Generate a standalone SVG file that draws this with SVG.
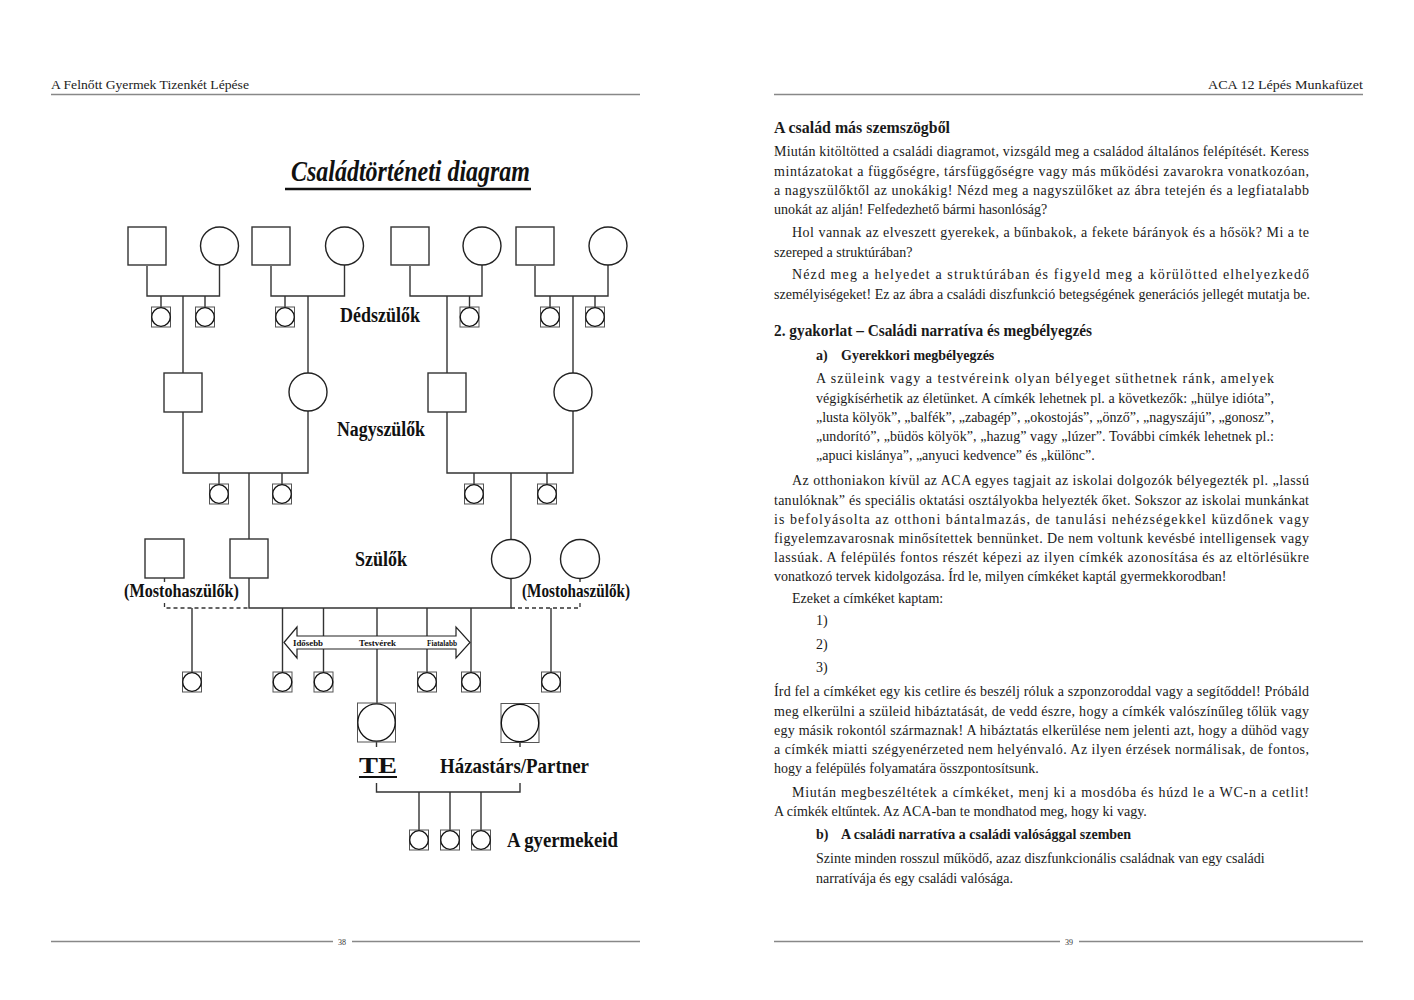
<svg xmlns="http://www.w3.org/2000/svg" xmlns:xlink="http://www.w3.org/1999/xlink" width="1414" height="1000" viewBox="0 0 1414 1000">
<style>
.ln{stroke:#333;stroke-width:1.4;fill:none}
.ds{stroke:#333;stroke-width:1.3;fill:none;stroke-dasharray:4 3}
.sq{fill:#fff;stroke:#333;stroke-width:1.4}
.ci{fill:#fff;stroke:#222;stroke-width:1.4}
.isq{fill:#fff;stroke:#555;stroke-width:1}
.ici{fill:#fff;stroke:#111;stroke-width:1.3}
.lab{font-family:"Liberation Serif",serif;font-weight:bold;fill:#111}
.b{font-family:"Liberation Serif",serif;font-size:14px;fill:#1a1a1a}
.bb{font-family:"Liberation Serif",serif;font-size:14px;font-weight:bold;fill:#1a1a1a}
.h{font-family:"Liberation Serif",serif;font-size:17px;font-weight:bold;fill:#1a1a1a}
.hd{font-family:"Liberation Serif",serif;font-size:12px;fill:#222}
.rule{stroke:#888;stroke-width:1.5}
.ar{font-family:"Liberation Serif",serif;font-size:9px;font-weight:bold;fill:#111}
.pg{font-family:"Liberation Serif",serif;font-size:8px;fill:#333}
</style>
<defs>
<g id="icon"><rect class="isq" x="-9.5" y="-10" width="19" height="20"/><circle class="ici" cx="0" cy="0" r="9.3"/></g>
<g id="bigicon"><rect class="isq" x="-19" y="-19.5" width="38" height="39"/><circle class="ici" cx="0" cy="0" r="18.7"/></g>
</defs>
<rect width="1414" height="1000" fill="#fff"/>

<!-- page furniture -->
<g id="page-left-header">
<text class="hd" x="51" y="89" textLength="198" lengthAdjust="spacingAndGlyphs">A Felnőtt Gyermek Tizenkét Lépése</text>
<line class="rule" x1="51" y1="94.5" x2="640" y2="94.5"/>
</g>
<g id="page-right-header">
<text class="hd" x="1363" y="89" text-anchor="end" textLength="155" lengthAdjust="spacingAndGlyphs">ACA 12 Lépés Munkafüzet</text>
<line class="rule" x1="774" y1="94.5" x2="1363" y2="94.5"/>
</g>
<g id="page-footers">
<line class="rule" x1="51" y1="941.5" x2="333" y2="941.5"/>
<text class="pg" x="342" y="944.5" text-anchor="middle">38</text>
<line class="rule" x1="352" y1="941.5" x2="640" y2="941.5"/>
<line class="rule" x1="774" y1="941.5" x2="1060" y2="941.5"/>
<text class="pg" x="1069" y="944.5" text-anchor="middle">39</text>
<line class="rule" x1="1079" y1="941.5" x2="1363" y2="941.5"/>
</g>

<!-- title -->
<g id="title">
<text x="291" y="181" style="font-family:'Liberation Serif',serif;font-size:29px;font-weight:bold;font-style:italic;fill:#111" textLength="239" lengthAdjust="spacingAndGlyphs">Családtörténeti diagram</text>
<line x1="285" y1="189" x2="531" y2="189" stroke="#111" stroke-width="2.5"/>
</g>

<!-- connectors -->
<g id="connectors">
<path class="ln" d="M147 266V296H219.5V265"/>
<path class="ln" d="M271 266V296H344.5V265"/>
<path class="ln" d="M410 266V296H482V265"/>
<path class="ln" d="M535 266V296H608V265"/>
<path class="ln" d="M161 296V307M205 296V307M285 296V307M469.5 296V307M550 296V307M595 296V307"/>
<path class="ln" d="M183 296V373M308 296V373M447 296V373M573 296V373"/>
<path class="ln" d="M183 412V473H308V411"/>
<path class="ln" d="M447 412V473H573V411"/>
<path class="ln" d="M219 473V484M282 473V484M474 473V484M547 473V484"/>
<path class="ln" d="M249 473V539M511 473V539.5"/>
<path class="ln" d="M249 578V608H511V578.5"/>
<path class="ln" d="M164.5 578V582M580 578.5V582"/>
<path class="ds" d="M164.5 603V608H249"/>
<path class="ds" d="M580 603V608H511"/>
<path class="ln" d="M192 608V672M282.5 608V672M471 608V672M551 608V672"/>
<path class="ln" d="M323.5 608V636M323.5 649V672M427 608V636M427 649V672"/>
<path class="ln" d="M377 608V636M377 649V703"/>
<path class="ln" d="M376.5 742V747M520 742.5V747"/>
<path class="ln" d="M376.5 783V792H520V783"/>
<path class="ln" d="M419 792V830M450 792V830M481 792V830"/>
</g>

<!-- sibling arrow -->
<g id="sibling-arrow">
<polygon points="284,642.5 297,627 297,636 456,636 456,627 470,642.5 456,658 456,649 297,649 297,658" fill="#fff" stroke="#222" stroke-width="1.2"/>
<text class="ar" x="293" y="646" textLength="30" lengthAdjust="spacingAndGlyphs">Idősebb</text>
<text class="ar" x="359" y="646" textLength="37" lengthAdjust="spacingAndGlyphs">Testvérek</text>
<text class="ar" x="427" y="646" textLength="30" lengthAdjust="spacingAndGlyphs">Fiatalabb</text>
</g>

<!-- great-grandparents -->
<g id="ggf1"><rect class="sq" x="128" y="227" width="38" height="38"/></g>
<g id="ggm1"><circle class="ci" cx="219.5" cy="246" r="19"/></g>
<g id="ggf2"><rect class="sq" x="252" y="227" width="38" height="38"/></g>
<g id="ggm2"><circle class="ci" cx="344.5" cy="246" r="19"/></g>
<g id="ggf3"><rect class="sq" x="391" y="227" width="38" height="38"/></g>
<g id="ggm3"><circle class="ci" cx="482" cy="246" r="19"/></g>
<g id="ggf4"><rect class="sq" x="516" y="227" width="38" height="38"/></g>
<g id="ggm4"><circle class="ci" cx="608" cy="246" r="19"/></g>
<g id="gg-children">
<use xlink:href="#icon" href="#icon" x="161" y="317"/>
<use xlink:href="#icon" href="#icon" x="205" y="317"/>
<use xlink:href="#icon" href="#icon" x="285" y="317"/>
<use xlink:href="#icon" href="#icon" x="469.5" y="317"/>
<use xlink:href="#icon" href="#icon" x="550" y="317"/>
<use xlink:href="#icon" href="#icon" x="595" y="317"/>
</g>
<g id="label-dedszulok"><text class="lab" x="340" y="322" font-size="20" textLength="80" lengthAdjust="spacingAndGlyphs">Dédszülők</text></g>

<!-- grandparents -->
<g id="gf-left"><rect class="sq" x="164" y="373" width="38" height="39"/></g>
<g id="gm-left"><circle class="ci" cx="308" cy="392" r="19"/></g>
<g id="gf-right"><rect class="sq" x="428" y="373" width="38" height="39"/></g>
<g id="gm-right"><circle class="ci" cx="573" cy="392" r="19"/></g>
<g id="g-children">
<use xlink:href="#icon" href="#icon" x="219" y="494"/>
<use xlink:href="#icon" href="#icon" x="282" y="494"/>
<use xlink:href="#icon" href="#icon" x="474" y="494"/>
<use xlink:href="#icon" href="#icon" x="547" y="494"/>
</g>
<g id="label-nagyszulok"><text class="lab" x="337" y="436" font-size="20" textLength="88" lengthAdjust="spacingAndGlyphs">Nagyszülők</text></g>

<!-- parents -->
<g id="stepfather"><rect class="sq" x="145" y="539" width="39" height="39"/></g>
<g id="father"><rect class="sq" x="230" y="539" width="38" height="39"/></g>
<g id="mother"><circle class="ci" cx="511" cy="559" r="19.5"/></g>
<g id="stepmother"><circle class="ci" cx="580" cy="559" r="19.5"/></g>
<g id="label-szulok"><text class="lab" x="355" y="566" font-size="20" textLength="52" lengthAdjust="spacingAndGlyphs">Szülők</text></g>
<g id="label-mostoha-left"><text class="lab" x="124" y="597" font-size="19" textLength="115" lengthAdjust="spacingAndGlyphs">(Mostohaszülők)</text></g>
<g id="label-mostoha-right"><text class="lab" x="522" y="597" font-size="19" textLength="108" lengthAdjust="spacingAndGlyphs">(Mostohaszülők)</text></g>

<!-- siblings -->
<g id="siblings">
<use xlink:href="#icon" href="#icon" x="192" y="682"/>
<use xlink:href="#icon" href="#icon" x="282.5" y="682"/>
<use xlink:href="#icon" href="#icon" x="323.5" y="682"/>
<use xlink:href="#icon" href="#icon" x="427" y="682"/>
<use xlink:href="#icon" href="#icon" x="471" y="682"/>
<use xlink:href="#icon" href="#icon" x="551" y="682"/>
</g>

<!-- you and partner -->
<g id="te"><use xlink:href="#bigicon" href="#bigicon" x="376.5" y="722.5"/>
<text class="lab" x="359" y="773" font-size="23" textLength="38" lengthAdjust="spacingAndGlyphs">TE</text>
<line x1="359" y1="777" x2="397" y2="777" stroke="#111" stroke-width="1.8"/></g>
<g id="partner"><use xlink:href="#bigicon" href="#bigicon" x="520" y="723"/>
<text class="lab" x="440" y="773" font-size="21" textLength="149" lengthAdjust="spacingAndGlyphs">Házastárs/Partner</text></g>

<!-- children -->
<g id="children">
<use xlink:href="#icon" href="#icon" x="419" y="840"/>
<use xlink:href="#icon" href="#icon" x="450" y="840"/>
<use xlink:href="#icon" href="#icon" x="481" y="840"/>
<text class="lab" x="507" y="847" font-size="21" textLength="111" lengthAdjust="spacingAndGlyphs">A gyermekeid</text>
</g>

<!-- right page text -->
<g id="right-page-text">
<text class="h" x="774" y="133" textLength="176" lengthAdjust="spacingAndGlyphs">A család más szemszögből</text>
<text class="b" x="774" y="156" textLength="535" lengthAdjust="spacing">Miután kitöltötted a családi diagramot, vizsgáld meg a családod általános felépítését. Keress</text>
<text class="b" x="774" y="175.5" textLength="535" lengthAdjust="spacing">mintázatokat a függőségre, társfüggőségre vagy más működési zavarokra vonatkozóan,</text>
<text class="b" x="774" y="195" textLength="535" lengthAdjust="spacing">a nagyszülőktől az unokákig! Nézd meg a nagyszülőket az ábra tetején és a legfiatalabb</text>
<text class="b" x="774" y="214">unokát az alján! Felfedezhető bármi hasonlóság?</text>
<text class="b" x="792" y="237" textLength="517" lengthAdjust="spacing">Hol vannak az elveszett gyerekek, a bűnbakok, a fekete bárányok és a hősök? Mi a te</text>
<text class="b" x="774" y="257">szereped a struktúrában?</text>
<text class="b" x="792" y="279" textLength="517" lengthAdjust="spacing">Nézd meg a helyedet a struktúrában és figyeld meg a körülötted elhelyezkedő</text>
<text class="b" x="774" y="299" textLength="536" lengthAdjust="spacing">személyiségeket! Ez az ábra a családi diszfunkció betegségének generációs jellegét mutatja be.</text>

<text class="h" x="774" y="336" textLength="318" lengthAdjust="spacingAndGlyphs">2. gyakorlat – Családi narratíva és megbélyegzés</text>
<text class="bb" x="816" y="360">a)</text>
<text class="bb" x="841" y="360">Gyerekkori megbélyegzés</text>
<text class="b" x="816" y="383" textLength="458" lengthAdjust="spacing">A szüleink vagy a testvéreink olyan bélyeget süthetnek ránk, amelyek</text>
<text class="b" x="816" y="402.5" textLength="458" lengthAdjust="spacing">végigkísérhetik az életünket. A címkék lehetnek pl. a következők: „hülye idióta”,</text>
<text class="b" x="816" y="422" textLength="458" lengthAdjust="spacing">„lusta kölyök”, „balfék”, „zabagép”, „okostojás”, „önző”, „nagyszájú”, „gonosz”,</text>
<text class="b" x="816" y="441" textLength="458" lengthAdjust="spacing">„undorító”, „büdös kölyök”, „hazug” vagy „lúzer”. További címkék lehetnek pl.:</text>
<text class="b" x="816" y="460">„apuci kislánya”, „anyuci kedvence” és „különc”.</text>
<text class="b" x="792" y="485" textLength="517" lengthAdjust="spacing">Az otthoniakon kívül az ACA egyes tagjait az iskolai dolgozók bélyegezték pl. „lassú</text>
<text class="b" x="774" y="504.5" textLength="535" lengthAdjust="spacing">tanulóknak” és speciális oktatási osztályokba helyezték őket. Sokszor az iskolai munkánkat</text>
<text class="b" x="774" y="524" textLength="535" lengthAdjust="spacing">is befolyásolta az otthoni bántalmazás, de tanulási nehézségekkel küzdőnek vagy</text>
<text class="b" x="774" y="543" textLength="535" lengthAdjust="spacing">figyelemzavarosnak minősítettek bennünket. De nem voltunk kevésbé intelligensek vagy</text>
<text class="b" x="774" y="562" textLength="535" lengthAdjust="spacing">lassúak. A felépülés fontos részét képezi az ilyen címkék azonosítása és az eltörlésükre</text>
<text class="b" x="774" y="581">vonatkozó tervek kidolgozása. Írd le, milyen címkéket kaptál gyermekkorodban!</text>
<text class="b" x="792" y="603">Ezeket a címkéket kaptam:</text>
<text class="b" x="816" y="625">1)</text>
<text class="b" x="816" y="649">2)</text>
<text class="b" x="816" y="672">3)</text>
<text class="b" x="774" y="696" textLength="535" lengthAdjust="spacing">Írd fel a címkéket egy kis cetlire és beszélj róluk a szponzoroddal vagy a segítőddel! Próbáld</text>
<text class="b" x="774" y="715.5" textLength="535" lengthAdjust="spacing">meg elkerülni a szüleid hibáztatását, de vedd észre, hogy a címkék valószínűleg tőlük vagy</text>
<text class="b" x="774" y="735" textLength="535" lengthAdjust="spacing">egy másik rokontól származnak! A hibáztatás elkerülése nem jelenti azt, hogy a dühöd vagy</text>
<text class="b" x="774" y="754" textLength="535" lengthAdjust="spacing">a címkék miatti szégyenérzeted nem helyénvaló. Az ilyen érzések normálisak, de fontos,</text>
<text class="b" x="774" y="773">hogy a felépülés folyamatára összpontosítsunk.</text>
<text class="b" x="792" y="797" textLength="517" lengthAdjust="spacing">Miután megbeszéltétek a címkéket, menj ki a mosdóba és húzd le a WC-n a cetlit!</text>
<text class="b" x="774" y="816">A címkék eltűntek. Az ACA-ban te mondhatod meg, hogy ki vagy.</text>
<text class="bb" x="816" y="839">b)</text>
<text class="bb" x="841" y="839">A családi narratíva a családi valósággal szemben</text>
<text class="b" x="816" y="863">Szinte minden rosszul működő, azaz diszfunkcionális családnak van egy családi</text>
<text class="b" x="816" y="883">narratívája és egy családi valósága.</text>
</g>
</svg>
